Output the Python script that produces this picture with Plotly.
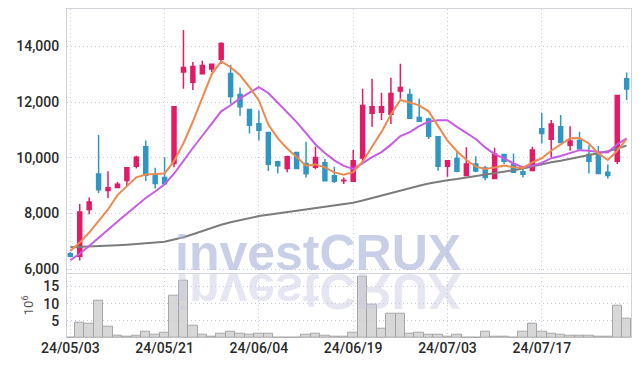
import plotly.graph_objects as go

dates = [
    "24/05/03", "24/05/07", "24/05/08", "24/05/09", "24/05/10", "24/05/13", "24/05/14", "24/05/16", "24/05/17", "24/05/20",
    "24/05/21", "24/05/22", "24/05/23", "24/05/24", "24/05/27", "24/05/28", "24/05/29", "24/05/30", "24/05/31", "24/06/03",
    "24/06/04", "24/06/05", "24/06/07", "24/06/10", "24/06/11", "24/06/12", "24/06/13", "24/06/14", "24/06/17", "24/06/18",
    "24/06/19", "24/06/20", "24/06/21", "24/06/24", "24/06/25", "24/06/26", "24/06/27", "24/06/28", "24/07/01", "24/07/02",
    "24/07/03", "24/07/04", "24/07/05", "24/07/08", "24/07/09", "24/07/10", "24/07/11", "24/07/12", "24/07/15", "24/07/16",
    "24/07/17", "24/07/18", "24/07/19", "24/07/22", "24/07/23", "24/07/24", "24/07/25", "24/07/26", "24/07/29", "24/07/30",
]

open_p = [6560, 6470, 8150, 9420, 8830, 8940, 9190, 9700, 10400, 9410,
          9300, 9800, 13080, 12720, 13020, 13190, 13540, 13030, 12280, 11740,
          11230, 10910, 9860, 9620, 10190, 9800, 9660, 9830, 9360, 9180,
          9160, 10000, 11600, 11640, 11570, 12400, 12280, 11450, 11400, 10760,
          9700, 9980, 9370, 9780, 9640, 9260, 10120, 9780, 9500, 9550,
          11050, 10670, 11120, 10450, 10620, 10120, 10120, 9480, 9880, 12840]
high_p = [6620, 8340, 8580, 10820, 9520, 9130, 9650, 10080, 10620, 9650,
          10020, 11840, 14590, 13440, 13490, 13360, 14150, 13340, 12530, 11760,
          11700, 10910, 9900, 10080, 10190, 10580, 10400, 9970, 9680, 9300,
          10280, 12480, 12840, 12340, 12880, 13380, 12480, 12120, 11440, 10780,
          9900, 10200, 10380, 10060, 9710, 10360, 10120, 10160, 9660, 10400,
          11620, 11360, 11540, 11140, 10940, 10450, 10430, 9760, 12240, 13070]
low_p = [6450, 6320, 7980, 8740, 8560, 8940, 9010, 9620, 9170, 8900,
         9070, 9660, 12480, 12440, 13020, 13080, 13380, 11940, 11510, 10880,
         10620, 9530, 9440, 9480, 9620, 9300, 9590, 9160, 9100, 9060,
         9160, 9900, 11120, 11360, 11220, 12120, 11420, 11320, 10680, 9540,
         9320, 9480, 9370, 9480, 9200, 9260, 9780, 9480, 9300, 9550,
         10520, 10020, 10550, 10260, 10330, 9440, 9440, 9260, 9780, 12080]
close_p = [6470, 8060, 8420, 8860, 8930, 9050, 9650, 10020, 9380, 9080,
           9070, 11840, 13250, 13280, 13320, 13360, 14110, 12200, 11840, 11170,
           10990, 9770, 9720, 10040, 9620, 9430, 10010, 9180, 9160, 9200,
           9900, 11880, 11840, 11840, 12310, 12530, 11420, 11320, 10780, 9700,
           9900, 9520, 9780, 9530, 9300, 10140, 9880, 9480, 9410, 10280,
           10880, 11220, 10550, 10610, 10330, 9880, 9440, 9370, 12240, 12470]

ma5 = [6660, 6960, 7320, 7740, 8148, 8664, 8981, 9300, 9406, 9437,
       9442, 9881, 10526, 11306, 12154, 13010, 13464, 13255, 12967, 12538,
       12065, 11196, 10699, 10339, 10030, 9718, 9766, 9658, 9480, 9396,
       9490, 9864, 10397, 10934, 11556, 12082, 11990, 11885, 11671, 11148,
       10622, 10241, 9934, 9684, 9605, 9653, 9725, 9665, 9641, 9838,
       9986, 10255, 10469, 10709, 10718, 10517, 10162, 9926, 10253, 10680]
ma10 = [6324, 6560, 6840, 7120, 7420, 7720, 8000, 8300, 8560, 8793,
        9053, 9431, 9913, 10356, 10795, 11226, 11672, 11891, 12137, 12346,
        12538, 12330, 11977, 11653, 11284, 10891, 10481, 10178, 9910, 9713,
        9604, 9815, 10027, 10207, 10476, 10786, 10927, 11141, 11303, 11352,
        11352, 11116, 10909, 10678, 10376, 10138, 9983, 9799, 9662, 9721,
        9820, 9990, 10067, 10175, 10278, 10252, 10208, 10198, 10481, 10699]
ma_long = [6790, 6800, 6810, 6825, 6840, 6860, 6880, 6900, 6920, 6960,
           6990, 7060, 7150, 7260, 7380, 7500, 7600, 7690, 7770, 7840,
           7910, 7960, 8010, 8060, 8110, 8160, 8210, 8250, 8300, 8350,
           8390, 8470, 8560, 8660, 8750, 8840, 8920, 9000, 9080, 9150,
           9200, 9240, 9290, 9340, 9390, 9450, 9500, 9560, 9620, 9700,
           9770, 9840, 9900, 9970, 10040, 10110, 10180, 10240, 10340, 10440]

volume_m = [0.1, 4.5, 4.2, 10.8, 3.2, 0.6, 0.3, 0.6, 1.8, 1.0,
            1.5, 12.3, 16.8, 3.6, 0.9, 0.5, 1.2, 1.8, 1.2, 0.9,
            1.2, 1.2, 0.2, 0.2, 0.2, 0.9, 1.2, 0.6, 0.3, 0.3,
            1.5, 17.8, 9.7, 2.7, 7.0, 7.0, 1.2, 1.5, 0.9, 0.9,
            0.5, 0.9, 0.2, 0.2, 1.8, 0.3, 0.3, 0.1, 1.8, 4.2,
            1.8, 1.2, 0.9, 0.6, 0.6, 0.6, 0.3, 0.3, 9.4, 5.7]

price_ticks = [6000, 8000, 10000, 12000, 14000]
price_tick_text = ["6,000", "8,000", "10,000", "12,000", "14,000"]
vol_ticks = [5, 10, 15]
date_tick_idx = [0, 10, 20, 30, 40, 50]

RED = "#e31a66"
BLUE = "#2f96c6"
GRID = "#c4c9de"
LINE = "#d2d4dc"
FONT = "Roboto, sans-serif"
DOT = "1px,3px"

idx = list(range(len(dates)))

fig = go.Figure()
fig.add_trace(go.Candlestick(
    x=idx, open=open_p, high=high_p, low=low_p, close=close_p,
    xaxis="x", yaxis="y", whiskerwidth=0,
    increasing=dict(line=dict(color=RED, width=1.5), fillcolor=RED),
    decreasing=dict(line=dict(color=BLUE, width=1.5), fillcolor=BLUE),
    showlegend=False, hoverinfo="skip",
))
fig.add_trace(go.Scatter(x=idx, y=ma_long, mode="lines", xaxis="x", yaxis="y",
                         line=dict(color="#7c7c7c", width=2), showlegend=False, hoverinfo="skip"))
fig.add_trace(go.Scatter(x=idx, y=ma10, mode="lines", xaxis="x", yaxis="y",
                         line=dict(color="#c95ae8", width=2), showlegend=False, hoverinfo="skip"))
fig.add_trace(go.Scatter(x=idx, y=ma5, mode="lines", xaxis="x", yaxis="y",
                         line=dict(color="#ee8a4e", width=2), showlegend=False, hoverinfo="skip"))
fig.add_trace(go.Bar(x=idx, y=volume_m, xaxis="x2", yaxis="y2", width=1.0,
                     marker=dict(color="rgba(205,205,205,0.8)", line=dict(color="rgba(160,160,160,0.9)", width=1)),
                     showlegend=False, hoverinfo="skip"))

tickvals = [idx[i] for i in date_tick_idx]
ticktext = [dates[i] for i in date_tick_idx]
split = 0.1985
xcommon = dict(type="linear", range=[-0.35, 59.46], tickmode="array", tickvals=tickvals, automargin=False,
               showgrid=True, gridcolor=GRID, griddash=DOT, gridwidth=1, zeroline=False)

fig.update_layout(
    width=639, height=366,
    margin=dict(l=67, r=8, t=9, b=28, autoexpand=False),
    paper_bgcolor="white", plot_bgcolor="white",
    bargap=0, boxgap=0.4,
    font=dict(family=FONT, size=14, color="#2a2a2a", weight=500),
    xaxis=dict(**xcommon, anchor="y", showticklabels=False, rangeslider=dict(visible=False),
               showline=True, mirror=True, linecolor=LINE, linewidth=1),
    xaxis2=dict(**xcommon, anchor="y2", matches="x", ticktext=ticktext, showticklabels=True,
                showline=False, ticks="", tickfont=dict(size=14, color="#2a2a2a", weight=500)),
    yaxis=dict(domain=[split, 1], range=[5878, 15346], tickmode="array", tickvals=price_ticks,
               ticktext=price_tick_text, showgrid=True, gridcolor=GRID, griddash=DOT, zeroline=False,
               showline=True, mirror=True, linecolor=LINE, ticks="", ticklabelstandoff=4, automargin=False),
    yaxis2=dict(domain=[0, split], range=[0, 19.0], tickmode="array", tickvals=vol_ticks,
                showgrid=True, gridcolor=GRID, griddash=DOT, zeroline=False, automargin=False,
                showline=True, mirror=True, linecolor=LINE, ticks="", ticklabelstandoff=4,
                title=dict(text="10<sup>6</sup>", font=dict(size=13, color="#555", weight=400), standoff=6)),
    annotations=[
        dict(text="investCRUX", xref="paper", yref="paper", x=0.445, y=0.259, xanchor="center", yanchor="middle",
             showarrow=False, font=dict(family="Liberation Sans, Arial, sans-serif", size=50, color="rgba(165,175,215,0.6)", weight="bold")),
        dict(text="investCRUX", xref="paper", yref="paper", x=0.445, y=0.143, xanchor="center", yanchor="middle",
             showarrow=False, font=dict(family="Liberation Sans, Arial, sans-serif", size=50, color="rgba(200,200,226,0.45)", weight="bold")),
    ],
)

post = """
document.body.style.margin = '0';
document.body.style.overflow = 'hidden';
var gd = document.getElementById('{plot_id}');
function flipReflection(){
  var anns = gd.querySelectorAll('g.annotation');
  anns.forEach(function(a){
    if (a.getAttribute('data-index') !== '1') return;
    var t = a.querySelector('text.annotation-text');
    if (!t) return;
    t.removeAttribute('transform');
    var bb = t.getBBox();
    var cy = bb.y + bb.height / 2;
    t.setAttribute('transform', 'translate(0,' + (2 * cy) + ') scale(1,-1)');
  });
}
flipReflection();
gd.on('plotly_afterplot', flipReflection);
"""

fig.write_html("out.html", post_script=post, config={"displayModeBar": False})
